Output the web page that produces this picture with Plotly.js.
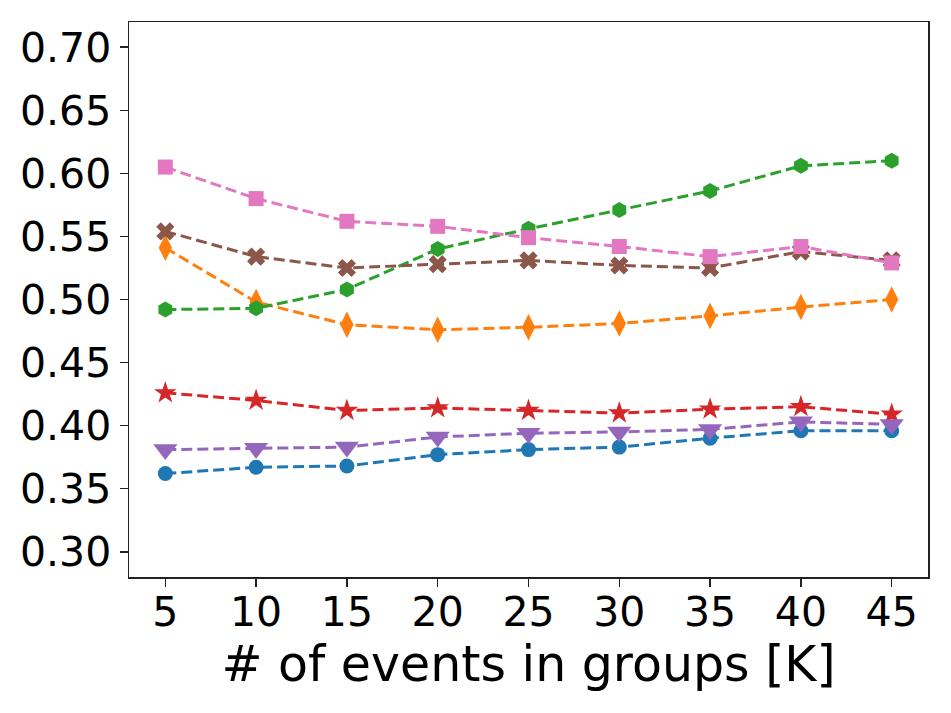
<!DOCTYPE html>
<html>
<head>
<meta charset="utf-8">
<script src="https://cdn.plot.ly/plotly-3.0.1.min.js"></script>
<style>
  body { margin: 0; background: #fff; }
  #chart { width: 951px; height: 713px; }
</style>
</head>
<body>
<div id="chart"></div>
<script>
// x values: number of events in groups [K]
var groupSizes = [5, 10, 15, 20, 25, 30, 35, 40, 45];

// series values
var blueVals   = [0.362, 0.367, 0.368, 0.377, 0.381, 0.383, 0.390, 0.396, 0.396];
var orangeVals = [0.541, 0.498, 0.480, 0.476, 0.478, 0.481, 0.487, 0.494, 0.500];
var greenVals  = [0.492, 0.493, 0.508, 0.540, 0.556, 0.571, 0.586, 0.606, 0.610];
var redVals    = [0.426, 0.420, 0.412, 0.414, 0.412, 0.410, 0.413, 0.415, 0.409];
var purpleVals = [0.381, 0.382, 0.383, 0.391, 0.394, 0.395, 0.397, 0.403, 0.401];
var brownVals  = [0.554, 0.534, 0.525, 0.528, 0.531, 0.527, 0.525, 0.538, 0.531];
var pinkVals   = [0.605, 0.580, 0.562, 0.558, 0.549, 0.542, 0.534, 0.542, 0.529];

var yTicks = [0.30, 0.35, 0.40, 0.45, 0.50, 0.55, 0.60, 0.65, 0.70];

// build one dashed line + marker trace
function makeTrace(vals, color, symbol, size) {
  return {
    x: groupSizes,
    y: vals,
    type: "scatter",
    mode: "lines+markers",
    line: { color: color, width: 3, dash: "11px,5px" },
    marker: { color: color, symbol: symbol, size: size, line: { width: 0 } },
    showlegend: false
  };
}

var data = [
  makeTrace(blueVals,   "#1f77b4", "circle",        15),
  makeTrace(orangeVals, "#ff7f0e", "diamond-tall",  19),
  makeTrace(greenVals,  "#2ca02c", "hexagon",       16),
  makeTrace(redVals,    "#d62728", "star",          17),
  makeTrace(purpleVals, "#9467bd", "triangle-down", 21),
  makeTrace(brownVals,  "#8c564b", "x",             16),
  makeTrace(pinkVals,   "#e377c2", "square",        15)
];

var axisStyle = {
  showline: true,
  linecolor: "#222",
  linewidth: 1.5,
  mirror: true,
  showgrid: false,
  zeroline: false,
  ticks: "outside",
  ticklen: 8,
  tickwidth: 1.5,
  tickcolor: "#222",
  tickfont: { family: "DejaVu Sans", size: 41, color: "#000" }
};

var layout = {
  width: 951,
  height: 713,
  margin: { l: 129, r: 23, t: 22, b: 136 },
  paper_bgcolor: "#fff",
  plot_bgcolor: "#fff",
  xaxis: Object.assign({}, axisStyle, {
    range: [3, 47],
    tickvals: groupSizes,
    ticktext: groupSizes.map(String),
    ticklabelstandoff: -10,
    title: { text: "# of events in groups [K]", font: { family: "DejaVu Sans", size: 49, color: "#000" }, standoff: 0 }
  }),
  yaxis: Object.assign({}, axisStyle, {
    range: [0.28, 0.72],
    tickvals: yTicks,
    ticktext: yTicks.map(function (v) { return v.toFixed(2); })
  })
};

Plotly.newPlot("chart", data, layout, { staticPlot: true });
</script>
</body>
</html>
